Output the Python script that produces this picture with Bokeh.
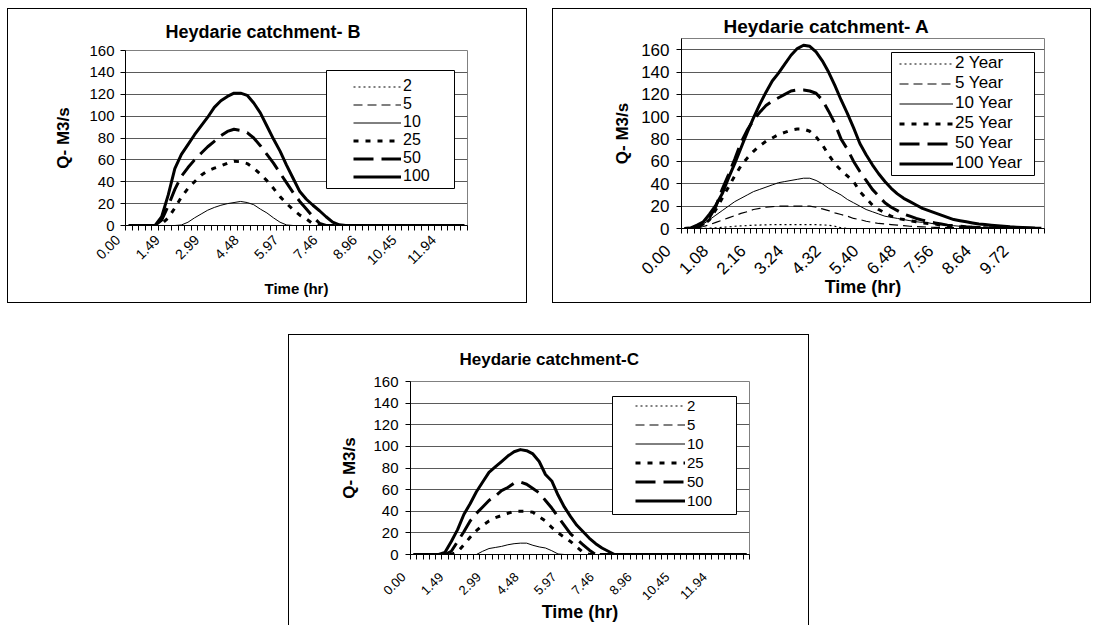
import math
from bokeh.plotting import figure
from bokeh.models import (Range1d, FixedTicker, BoxAnnotation, Spacer, Legend,
                          LegendItem)
from bokeh.layouts import column, row
from bokeh.embed import file_html
from bokeh.resources import INLINE

FONT = "Liberation Sans"

# ------------------------------------------------------------------ data
y_ticks = [0, 20, 40, 60, 80, 100, 120, 140, 160]
legend_b = ["2", "5", "10", "25", "50", "100"]
legend_a = ["2 Year", "5 Year", "10 Year", "25 Year", "50 Year", "100 Year"]
x_title = "Time (hr)"
y_title = "Q- M3/s"

# Heydarie catchment- B
b_title = "Heydarie catchment- B"
b_time = ["0.00", "0.25", "0.50", "0.75", "0.99", "1.24", "1.49", "1.74", "1.99", "2.24",
          "2.49", "2.74", "2.99", "3.23", "3.48", "3.73", "3.98", "4.23", "4.48", "4.73",
          "4.98", "5.22", "5.47", "5.72", "5.97", "6.22", "6.47", "6.72", "6.97", "7.21",
          "7.46", "7.71", "7.96", "8.21", "8.46", "8.71", "8.96", "9.20", "9.45", "9.70",
          "9.95", "10.20", "10.45", "10.70", "10.95", "11.19", "11.44", "11.69", "11.94", "12.19",
          "12.44", "12.69"]
b_xlabels = ["0.00", "1.49", "2.99", "4.48", "5.97", "7.46", "8.96", "10.45", "11.94"]
b_q2 = [0, 0, 0, 0, 0, 0, 0, 0, 0, 0, 0, 0, 0, 0, 0, 0, 0, 0, 0, 0, 0, 0, 0, 0, 0, 0,
        0, 0, 0, 0, 0, 0, 0, 0, 0, 0, 0, 0, 0, 0, 0, 0, 0, 0, 0, 0, 0, 0, 0, 0, 0, 0]
b_q5 = [0, 0, 0, 0, 0, 0, 0, 0, 0, 0, 0, 0, 0, 0, 0, 0, 0, 0, 0, 0, 0, 0, 0, 0, 0, 0,
        0, 0, 0, 0, 0, 0, 0, 0, 0, 0, 0, 0, 0, 0, 0, 0, 0, 0, 0, 0, 0, 0, 0, 0, 0, 0]
b_q10 = [0, 0, 0, 0, 0, 0, 0, 0, 0.5, 3, 7, 10.5, 14, 16.5, 18.5, 20, 21, 22, 21, 19,
         15, 11.5, 7, 3, 0.5, 0, 0, 0, 0, 0, 0, 0, 0, 0, 0, 0, 0, 0, 0, 0,
         0, 0, 0, 0, 0, 0, 0, 0, 0, 0, 0, 0]
b_q25 = [0, 0, 0, 0, 0, 1.4, 7, 16, 26, 34, 40, 46, 50, 52.4, 54.4, 57, 58.7, 58.3, 56.6, 52.5,
         47, 41, 34, 26.4, 20, 14.5, 9.5, 6, 1.5, 0, 0, 0, 0, 0, 0, 0, 0, 0, 0, 0,
         0, 0, 0, 0, 0, 0, 0, 0, 0, 0, 0, 0]
b_q50 = [0, 0, 0, 0, 0, 5, 18, 33, 45, 53, 60, 66, 72, 77, 82, 86, 88, 87, 85, 80,
         73, 65, 57, 48, 39, 30, 22, 15, 8, 2, 0, 0, 0, 0, 0, 0, 0, 0, 0, 0,
         0, 0, 0, 0, 0, 0, 0, 0, 0, 0, 0, 0]
b_q100 = [0, 0, 0, 0, 0, 8, 28, 52, 65, 74, 83, 91, 99, 108, 114, 118, 121, 121, 119, 112,
          103, 91, 79, 68, 55, 43, 31, 24, 18.5, 13.5, 8, 3, 0.6, 0, 0, 0, 0, 0, 0, 0,
          0, 0, 0, 0, 0, 0, 0, 0, 0, 0, 0, 0]

# Heydarie catchment- A
a_title = "Heydarie catchment- A"
a_time = ["0.00", "0.18", "0.36", "0.54", "0.72", "0.90", "1.08", "1.26", "1.44", "1.62",
          "1.80", "1.98", "2.16", "2.34", "2.52", "2.70", "2.88", "3.06", "3.24", "3.42",
          "3.60", "3.78", "3.96", "4.14", "4.32", "4.50", "4.68", "4.86", "5.04", "5.22",
          "5.40", "5.58", "5.76", "5.94", "6.12", "6.30", "6.48", "6.66", "6.84", "7.02",
          "7.20", "7.38", "7.56", "7.74", "7.92", "8.10", "8.28", "8.46", "8.64", "8.82",
          "9.00", "9.18", "9.36", "9.54", "9.72", "9.90", "10.08", "10.26"]
a_xlabels = ["0.00", "1.08", "2.16", "3.24", "4.32", "5.40", "6.48", "7.56", "8.64", "9.72"]
a_q2 = [0, 0, 0, 0, 0.3, 0.6, 1, 1.5, 2, 2.3, 2.6, 2.9, 3.1, 3.3, 3.4, 3.5, 3.5, 3.5, 3.5, 3.5,
        3.5, 3.4, 3.2, 3, 2, 0.5, 0, 0, 0, 0, 0, 0, 0, 0, 0, 0, 0, 0, 0, 0,
        0, 0, 0, 0, 0, 0, 0, 0, 0, 0, 0, 0, 0, 0, 0, 0, 0, 0]
a_q5 = [0, 0.2, 0.8, 1.8, 3.5, 5.5, 7.5, 9.5, 11.5, 13.5, 15, 17, 18, 19, 19.5, 20, 20, 20, 20, 20,
        20, 19, 17.5, 16, 14, 12.5, 11, 9, 8, 6.5, 5.5, 4.5, 4, 3.5, 3, 2.5, 2, 1.8, 1.5, 1.2,
        1, 0.9, 0.8, 0.7, 0.6, 0.5, 0.4, 0.4, 0.3, 0.3, 0.2, 0.2, 0.2, 0.1, 0.1, 0.1, 0, 0]
a_q10 = [0, 0.3, 1.5, 4, 8, 12, 16, 20, 24, 27, 30, 33, 35, 37, 39, 41, 42, 43, 44, 45,
         45, 43, 40, 36, 33, 30, 26, 23, 20, 17, 15, 13, 11, 10, 9, 8, 7, 6, 5.5, 5,
         4, 3.5, 3, 2.5, 2, 1.5, 1.2, 1, 0.8, 0.7, 0.6, 0.5, 0.4, 0.3, 0.3, 0.2, 0.1, 0.1]
a_q25 = [0, 0.2, 1, 3, 8, 17, 27, 37, 47, 56, 63, 69, 74, 78, 81, 84, 86, 88, 89, 89,
         87, 82, 75, 66, 58, 52, 47, 42, 33, 27, 21, 17, 14, 11, 9, 8, 7, 6, 5, 4.5,
         4, 3, 2.5, 2, 1.5, 1.2, 1, 0.8, 0.6, 0.5, 0.4, 0.3, 0.2, 0.2, 0.1, 0.1, 0.1, 0]
a_q50 = [0, 0.3, 2, 4, 10, 20, 35, 48, 62, 77, 88, 97, 104, 110, 114, 117, 120, 123, 124, 124,
         123, 121, 115, 105, 94, 80, 71, 60, 51, 43, 35, 29, 23, 19, 16, 13, 11, 9, 7.5, 6,
         5, 4, 3, 2.5, 2, 1.5, 1.2, 1, 0.8, 0.6, 0.5, 0.4, 0.3, 0.3, 0.2, 0.2, 0.1, 0.1]
a_q100 = [0, 0.5, 3, 6, 13, 21, 31, 45, 58, 72, 86, 99, 111, 122, 132, 139, 147, 155, 161, 164,
          163, 158, 150, 140, 128, 115, 103, 90, 76, 66, 57, 49, 42, 36, 31, 27, 24, 21, 18, 16,
          14, 12, 10, 8, 7, 6, 5, 4, 3.5, 3, 2.5, 2, 1.5, 1.2, 1, 0.7, 0.4, 0.3]

# Heydarie catchment-C
c_title = "Heydarie catchment-C"
c_time = ["0.00", "0.25", "0.50", "0.75", "0.99", "1.24", "1.49", "1.74", "1.99", "2.24",
          "2.49", "2.74", "2.99", "3.23", "3.48", "3.73", "3.98", "4.23", "4.48", "4.73",
          "4.98", "5.22", "5.47", "5.72", "5.97", "6.22", "6.47", "6.72", "6.97", "7.21",
          "7.46", "7.71", "7.96", "8.21", "8.46", "8.71", "8.96", "9.20", "9.45", "9.70",
          "9.95", "10.20", "10.45", "10.70", "10.95", "11.19", "11.44", "11.69", "11.94", "12.19",
          "12.44", "12.69", "12.94", "13.18"]
c_xlabels = ["0.00", "1.49", "2.99", "4.48", "5.97", "7.46", "8.96", "10.45", "11.94"]
c_q2 = [0, 0, 0, 0, 0, 0, 0, 0, 0, 0, 0, 0, 0, 0, 0, 0, 0, 0, 0, 0, 0, 0, 0, 0, 0, 0, 0,
        0, 0, 0, 0, 0, 0, 0, 0, 0, 0, 0, 0, 0, 0, 0, 0, 0, 0, 0, 0, 0, 0, 0, 0, 0, 0, 0]
c_q5 = [0, 0, 0, 0, 0, 0, 0, 0, 0, 0, 0, 0, 0, 0, 0, 0, 0, 0, 0, 0, 0, 0, 0, 0, 0, 0, 0,
        0, 0, 0, 0, 0, 0, 0, 0, 0, 0, 0, 0, 0, 0, 0, 0, 0, 0, 0, 0, 0, 0, 0, 0, 0, 0, 0]
c_q10 = [0, 0, 0, 0, 0, 0, 0, 0, 0, 0, 0, 3, 5.5, 6.5, 7.5, 9, 10, 10.5, 10.5, 8.5,
         7, 6, 3.5, 0.5, 0, 0, 0, 0, 0, 0, 0, 0, 0, 0, 0, 0, 0, 0, 0, 0,
         0, 0, 0, 0, 0, 0, 0, 0, 0, 0, 0, 0, 0, 0]
c_q25 = [0, 0, 0, 0, 0, 0, 0, 2.5, 9, 16, 22, 27, 31, 34, 36, 38, 40, 40, 40, 39,
         35, 31, 25, 20, 16, 12, 7, 2, 0, 0, 0, 0, 0, 0, 0, 0, 0, 0, 0, 0,
         0, 0, 0, 0, 0, 0, 0, 0, 0, 0, 0, 0, 0, 0]
c_q50 = [0, 0, 0, 0, 0, 0, 3, 12, 21, 31, 38, 44, 50, 54, 59, 62, 66, 67, 65, 61,
         57, 50, 43, 35, 27, 19, 14, 9, 4, 0, 0, 0, 0, 0, 0, 0, 0, 0, 0, 0,
         0, 0, 0, 0, 0, 0, 0, 0, 0, 0, 0, 0, 0, 0]
c_q100 = [0, 0, 0, 0, 0, 2, 12, 23, 37, 47, 58, 67, 76, 81, 86, 91, 95, 97, 96, 93,
          86, 74, 68, 55, 44, 35, 27, 21, 15, 10, 6, 3, 0, 0, 0, 0, 0, 0, 0, 0,
          0, 0, 0, 0, 0, 0, 0, 0, 0, 0, 0, 0, 0, 0]

# ------------------------------------------------------------------ styles
LINE_STYLES = [("2 3", 1.2), ("9 5", 1.2), ("solid", 1.0),
               ("5 7", 3.0), ("20 8", 3.0), ("solid", 3.0)]

BOX_ALL = "inset 0 0 0 1px #000000"
BOX_OPEN_BOTTOM = "inset 1px 1px 0 0 #000000, inset -1px 0 0 0 #000000"
NBSP = "\u00a0"


def build(title, times, xlabels, series, names, ymax, g):
    n = len(times)
    xs = list(range(n))
    p = figure(width=g["w"], height=g["h"], output_backend="svg", toolbar_location=None,
               x_range=Range1d(-0.5, n - 0.5), y_range=Range1d(0, ymax),
               min_border_left=g["ml"], min_border_right=g["mr"],
               min_border_top=g["mt"], min_border_bottom=g["mb"],
               border_fill_color=None, background_fill_color="white",
               outline_line_color="#808080", outline_line_width=1,
               title=title, styles={"box-shadow": g["shadow"]})
    try:
        p.frame_align = False
    except Exception:
        pass

    p.title.align = "left"
    p.title.offset = g["t_off"]
    p.title.standoff = g["t_stand"]
    p.title.text_font = FONT
    p.title.text_font_size = g["t_fs"]
    p.title.text_font_style = "bold"
    p.title.text_color = "black"

    p.xgrid.visible = False
    p.ygrid.grid_line_color = "#5a5a5a"
    p.ygrid.grid_line_width = 1

    # x axis: category slots, tick marks between categories, every 6th label
    xa = p.xaxis[0]
    label_pos = [times.index(t) for t in xlabels]
    xa.ticker = FixedTicker(ticks=label_pos, minor_ticks=[i - 0.5 for i in range(n + 1)])
    xa.major_label_overrides = {i: times[i] + NBSP * g["pad"] for i in label_pos}
    xa.major_label_orientation = math.pi / 4
    xa.major_tick_out = 0
    xa.major_tick_in = 0
    xa.minor_tick_out = 5
    xa.minor_tick_in = 0
    xa.minor_tick_line_color = "black"
    xa.axis_line_color = "black"
    xa.major_label_standoff = g["xl_stand"]
    xa.major_label_text_font = FONT
    xa.major_label_text_font_size = g["xt_fs"]
    xa.major_label_text_color = "black"
    xa.axis_label = x_title
    xa.axis_label_text_font = FONT
    xa.axis_label_text_font_size = g["xa_fs"]
    xa.axis_label_text_font_style = "bold"
    xa.axis_label_text_color = "black"
    xa.axis_label_standoff = g["xa_stand"]

    ya = p.yaxis[0]
    ya.ticker = FixedTicker(ticks=y_ticks)
    ya.major_tick_out = 5
    ya.major_tick_in = 0
    ya.minor_tick_out = 0
    ya.minor_tick_in = 0
    ya.axis_line_color = "black"
    ya.major_tick_line_color = "black"
    ya.major_label_standoff = g["yl_stand"]
    ya.major_label_text_font = FONT
    ya.major_label_text_font_size = g["yt_fs"]
    ya.major_label_text_color = "black"
    ya.axis_label = y_title
    ya.axis_label_text_font = FONT
    ya.axis_label_text_font_size = g["ya_fs"]
    ya.axis_label_text_font_style = "bold"
    ya.axis_label_text_color = "black"
    ya.axis_label_standoff = g["ya_stand"]

    items = []
    for vals, name, (dash, lw) in zip(series, names, LINE_STYLES):
        r = p.line(xs, vals, line_color="black", line_width=lw, line_dash=dash,
                   line_join="round")
        items.append(LegendItem(label=name, renderers=[r]))

    bl, br, bt, bb = g["box"]
    box = BoxAnnotation(left=bl, right=br, top=bt, bottom=bb,
                        left_units="screen", right_units="screen",
                        top_units="screen", bottom_units="screen",
                        fill_color="white", fill_alpha=1.0,
                        line_color="black", line_width=1, line_alpha=1.0)
    p.add_layout(box)
    leg = Legend(items=items, location=g["leg"], padding=0, margin=0,
                 spacing=g["spacing"], glyph_width=g["gw"], glyph_height=15,
                 label_height=15, label_standoff=2,
                 label_text_font=FONT, label_text_font_size=g["lg_fs"],
                 label_text_color="black",
                 border_line_color=None, background_fill_alpha=0.0)
    p.add_layout(leg)
    return p


gB = dict(w=520, h=295, ml=118, mr=60, mt=42, mb=78, shadow=BOX_ALL,
          t_off=40, t_stand=18, t_fs="18px",
          pad=4, xl_stand=-4, xt_fs="14px", xa_fs="15px", xa_stand=3,
          yl_stand=6, yt_fs="15px", ya_fs="17px", ya_stand=13,
          box=(201, 329, 155, 37), leg=(228, 40), spacing=0, gw=48, lg_fs="16px")
gA = dict(w=539, h=295, ml=129, mr=47, mt=30, mb=75, shadow=BOX_ALL,
          t_off=42, t_stand=4, t_fs="19px",
          pad=5, xl_stand=-2, xt_fs="17px", xa_fs="18px", xa_stand=-11,
          yl_stand=7, yt_fs="17px", ya_fs="17px", ya_stand=6,
          box=(210, 353, 176, 53), leg=(218, 55), spacing=0, gw=54, lg_fs="17px")
gC = dict(w=521, h=291, ml=122, mr=60, mt=47, mb=71, shadow=BOX_OPEN_BOTTOM,
          t_off=49, t_stand=25, t_fs="17px",
          pad=4, xl_stand=5, xt_fs="13px", xa_fs="18px", xa_stand=-9,
          yl_stand=7, yt_fs="15px", ya_fs="17px", ya_stand=11,
          box=(202, 326, 158, 40), leg=(225, 45), spacing=2, gw=50, lg_fs="15px")

pB = build(b_title, b_time, b_xlabels,
           [b_q2, b_q5, b_q10, b_q25, b_q50, b_q100], legend_b, 160, gB)
pA = build(a_title, a_time, a_xlabels,
           [a_q2, a_q5, a_q10, a_q25, a_q50, a_q100], legend_a, 170, gA)
pC = build(c_title, c_time, c_xlabels,
           [c_q2, c_q5, c_q10, c_q25, c_q50, c_q100], legend_b, 160, gC)

layout = column(
    Spacer(width=10, height=8),
    row(Spacer(width=7, height=295), pB, Spacer(width=25, height=295), pA),
    Spacer(width=10, height=31),
    row(Spacer(width=288, height=291), pC),
)

open("out.html", "w").write(file_html(layout, INLINE))
